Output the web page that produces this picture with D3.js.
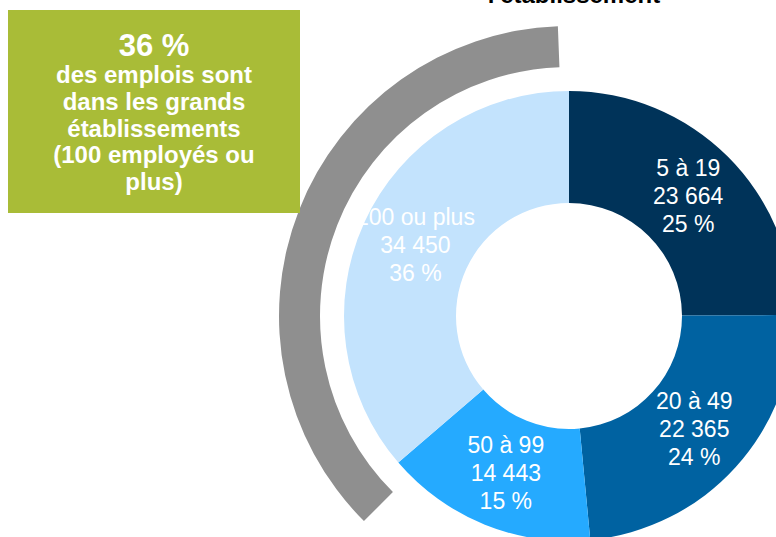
<!DOCTYPE html>
<html>
<head>
<meta charset="utf-8">
<script src="https://cdn.jsdelivr.net/npm/d3@7"></script>
<style>
  html, body { margin: 0; padding: 0; background: #fff; }
  svg { display: block; font-family: "Liberation Sans", Arial, sans-serif; }
</style>
</head>
<body>
<svg id="chart" width="776" height="537"></svg>
<script>
// ---- data ----
const categories = ["5 à 19", "20 à 49", "50 à 99", "100 ou plus"];
const jobs = [23664, 22365, 14443, 34450];
const sliceColors = ["#003359", "#0062a1", "#25aaff", "#c3e3fd"];
const titleText = "l'établissement";
const calloutLines = ["des emplois sont", "dans les grands", "établissements", "(100 employés ou", "plus)"];
const calloutValue = "36 %";

// ---- layout ----
const svg = d3.select("#chart");
const cx = 569, cy = 316;
const rInner = 113, rOuter = 225;
const fr = d3.formatLocale({decimal: ",", thousands: "\u00a0", grouping: [3], currency: ["", " $"]});
const fmt = fr.format(",d");
const total = d3.sum(jobs);

const data = categories.map((c, i) => ({cat: c, value: jobs[i], color: sliceColors[i]}));
const pie = d3.pie().value(d => d.value).sort(null).startAngle(0).endAngle(2 * Math.PI);
const arc = d3.arc().innerRadius(rInner).outerRadius(rOuter);
const arcs = pie(data);

const g = svg.append("g").attr("transform", `translate(${cx},${cy})`);

// gray bracket arc around the large-establishment slice
const deg = Math.PI / 180;
g.append("path")
  .attr("d", d3.arc().innerRadius(249).outerRadius(290)
    .startAngle(-135 * deg).endAngle(-2.2 * deg)())
  .attr("fill", "#8f8f8f");

g.selectAll("path.slice").data(arcs).enter().append("path")
  .attr("class", "slice")
  .attr("d", arc)
  .attr("fill", d => d.data.color);

const labels = g.selectAll("g.lab").data(arcs).enter().append("g")
  .attr("class", "lab")
  .attr("transform", d => { const c = arc.centroid(d); return `translate(${c[0]},${c[1]})`; });
labels.each(function(d) {
  const lines = [d.data.cat, fmt(d.data.value), Math.round(d.data.value / total * 100) + " %"];
  d3.select(this).selectAll("text").data(lines).enter().append("text")
    .attr("x", 0)
    .attr("y", (t, i) => (i - 1) * 28 + 8)
    .attr("text-anchor", "middle")
    .attr("font-size", 23)
    .attr("fill", "#ffffff")
    .text(t => t);
});

// cropped title
svg.append("text")
  .attr("x", 574).attr("y", 3)
  .attr("text-anchor", "middle")
  .attr("font-size", 24).attr("font-weight", "bold")
  .attr("fill", "#000")
  .text(titleText);

// green callout box
svg.append("rect")
  .attr("x", 8).attr("y", 10).attr("width", 292).attr("height", 203)
  .attr("fill", "#a9bc37");
svg.append("text")
  .attr("x", 154).attr("y", 56)
  .attr("text-anchor", "middle")
  .attr("font-size", 31).attr("font-weight", "bold")
  .attr("fill", "#fff")
  .text(calloutValue);
svg.selectAll("text.call").data(calloutLines).enter().append("text")
  .attr("class", "call")
  .attr("x", 154)
  .attr("y", (t, i) => 83 + i * 26.8)
  .attr("text-anchor", "middle")
  .attr("font-size", 24).attr("font-weight", "bold")
  .attr("fill", "#fff")
  .text(t => t);
</script>
</body>
</html>
